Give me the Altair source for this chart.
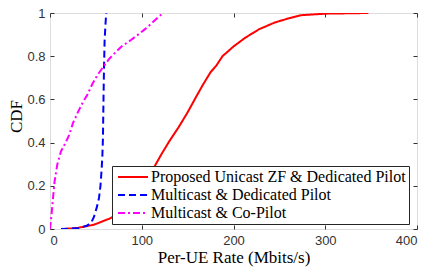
import altair as alt
import pandas as pd

# Series data (x: Per-UE rate in Mbits/s, y: CDF)
red_x = [15, 30, 48, 66, 80, 95, 105, 114, 122, 130, 140, 150, 159, 167, 175, 181, 188, 200, 213, 228, 245, 260, 274, 301, 347]
red_y = [0, 0.005, 0.02, 0.05, 0.09, 0.15, 0.21, 0.29, 0.35, 0.406, 0.47, 0.54, 0.61, 0.67, 0.726, 0.755, 0.80, 0.845, 0.886, 0.925, 0.956, 0.975, 0.99, 0.997, 1.0]

blue_x = [12, 30, 40, 45, 48, 51, 53.4, 55, 56, 57, 57.7, 58.3, 58.8, 59.5, 60.5, 61.3]
blue_y = [0, 0.003, 0.015, 0.03, 0.057, 0.1, 0.144, 0.2, 0.26, 0.33, 0.42, 0.6, 0.73, 0.87, 0.95, 1.0]

mag_x = [0, 1.5, 3, 5, 8, 12, 17, 21, 25, 30, 35, 41, 46, 51.6, 58.8, 64, 69.5, 78, 87.6, 96, 105, 114, 123]
mag_y = [0, 0.06, 0.13, 0.22, 0.3, 0.36, 0.40, 0.436, 0.49, 0.537, 0.58, 0.624, 0.67, 0.712, 0.755, 0.785, 0.81, 0.845, 0.873, 0.90, 0.93, 0.965, 1.0]

series_names = [
    "Proposed Unicast ZF & Dedicated Pilot",
    "Multicast & Dedicated Pilot",
    "Multicast & Co-Pilot",
]
series_colors = ["#ff0000", "#0000ff", "#ff00ff"]
series_dashes = [[1, 0], [7, 4], [7, 3, 2, 3]]

x_ticks = [0, 100, 200, 300, 400]
y_ticks = [0, 0.2, 0.4, 0.6, 0.8, 1]

rows = []
for name, xs, ys in zip(series_names, [red_x, blue_x, mag_x], [red_y, blue_y, mag_y]):
    for i, (x, y) in enumerate(zip(xs, ys)):
        rows.append({"series": name, "x": x, "y": y, "i": i})
df = pd.DataFrame(rows)

label_font = "Liberation Sans, Arial, sans-serif"
serif = "Liberation Serif, Times New Roman, serif"
axis_color = "#333333"

x_scale = alt.Scale(domain=[0, 400], nice=False, zero=False)
y_scale = alt.Scale(domain=[0, 1], nice=False, zero=False)

tick_style = dict(
    domain=False, grid=False, offset=-4, tickSize=4, tickColor=axis_color,
    tickWidth=1, labelFont=label_font, labelFontSize=13, labelColor=axis_color,
)
title_style = dict(titleFont=serif, titleFontSize=17, titleFontWeight="normal", titleColor="#000000")

legend_style = dict(
    title=None, orient="none", legendX=62, legendY=153,
    symbolType="M-3,0H3", symbolSize=100, symbolStrokeWidth=2, symbolOffset=10,
    labelFont=serif, labelFontSize=16, labelColor="#000000", labelLimit=500,
    labelOffset=10, rowPadding=2, padding=3,
    fillColor="#ffffff", strokeColor="#262626",
)

lines = alt.Chart(df).mark_line(strokeWidth=2, clip=True).encode(
    x=alt.X("x:Q", scale=x_scale,
            axis=alt.Axis(values=x_ticks, format="d", title="Per-UE Rate (Mbits/s)",
                          labelPadding=5, titleBaseline="alphabetic", titleY=37,
                          **tick_style, **title_style)),
    y=alt.Y("y:Q", scale=y_scale,
            axis=alt.Axis(values=y_ticks, format="~g", title="CDF",
                          labelPadding=5, titleBaseline="alphabetic", titleAngle=270,
                          titleX=-33, titleY=103, **tick_style, **title_style)),
    color=alt.Color("series:N",
                    scale=alt.Scale(domain=series_names, range=series_colors),
                    legend=alt.Legend(**legend_style)),
    strokeDash=alt.StrokeDash("series:N",
                              scale=alt.Scale(domain=series_names, range=series_dashes),
                              legend=alt.Legend(**legend_style)),
    order="i:Q",
)

frame_axes = alt.Chart(df).mark_point(opacity=0).encode(
    x=alt.X("x:Q", scale=x_scale,
            axis=alt.Axis(values=x_ticks, orient="top", labels=False, title=None, **tick_style)),
    y=alt.Y("y:Q", scale=y_scale,
            axis=alt.Axis(values=y_ticks, orient="right", labels=False, title=None, **tick_style)),
)

chart = alt.layer(lines, frame_axes).resolve_axis(x="independent", y="independent").properties(
    width=367, height=216,
    autosize=alt.AutoSizeParams(type="none"),
    padding={"left": 42, "top": 5, "right": 10, "bottom": 38},
).configure_view(stroke="#444444", strokeWidth=1).configure(background="#ffffff")

chart.save("out.html", embed_options={"renderer": "svg", "actions": False})
